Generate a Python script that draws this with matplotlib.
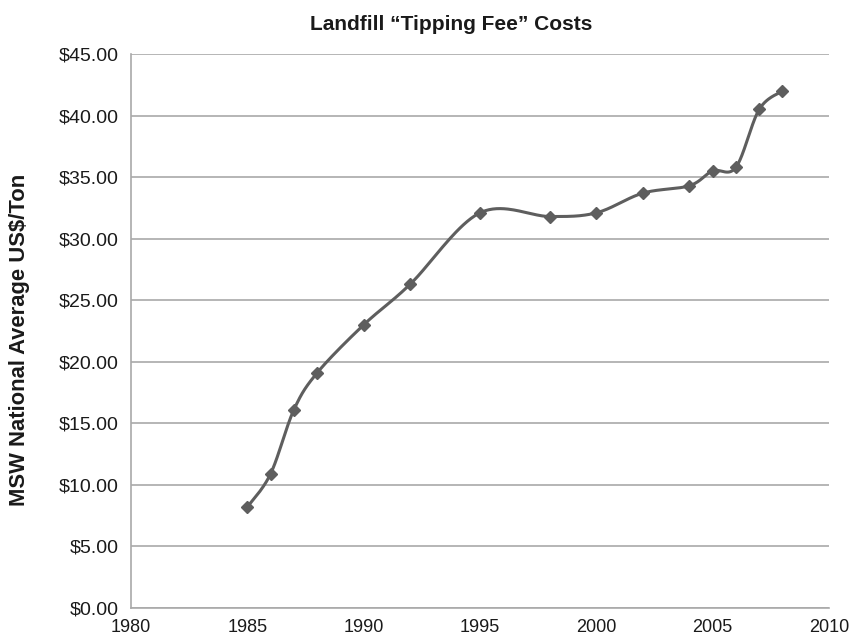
import numpy as np
import matplotlib
matplotlib.use("Agg")
import matplotlib.pyplot as plt

years = [1985, 1986, 1987, 1988, 1990, 1992, 1995, 1998, 2000, 2002, 2004, 2005, 2006, 2007, 2008]
fees = [8.2, 10.9, 16.1, 19.1, 23.0, 26.3, 32.1, 31.8, 32.1, 33.7, 34.3, 35.5, 35.8, 40.5, 42.0]

x_ticks = [1980, 1985, 1990, 1995, 2000, 2005, 2010]
y_ticks = [0, 5, 10, 15, 20, 25, 30, 35, 40, 45]

line_color = "#5e5e5e"
grid_color = "#a9a9a9"
text_color = "#1a1a1a"

plt.rcParams["font.family"] = ["Liberation Sans", "DejaVu Sans"]


def smooth_curve(xs, ys, n=40):
    """Cubic Bezier smoothing through every point (Catmull-Rom style)."""
    p = np.column_stack([xs, ys]).astype(float)
    ext = np.vstack([p[0], p, p[-1]])
    out = []
    t = np.linspace(0, 1, n)[:, None]
    for i in range(1, len(ext) - 2):
        p0, p1, p2, p3 = ext[i - 1], ext[i], ext[i + 1], ext[i + 2]
        c1 = p1 + (p2 - p0) / 6.0
        c2 = p2 - (p3 - p1) / 6.0
        seg = ((1 - t) ** 3) * p1 + 3 * ((1 - t) ** 2) * t * c1 + 3 * (1 - t) * t ** 2 * c2 + t ** 3 * p2
        out.append(seg if i == 1 else seg[1:])
    c = np.vstack(out)
    return c[:, 0], c[:, 1]


fig = plt.figure(figsize=(8.49, 6.35), dpi=100)
ax = fig.add_axes([131 / 849, 1 - 608 / 635, (829 - 131) / 849, (608 - 54) / 635])

sx, sy = smooth_curve(years, fees)
ax.plot(sx, sy, color=line_color, lw=2.2, solid_capstyle="round", zorder=3)
ax.plot(years, fees, linestyle="none", marker="D", markersize=6.2,
        color=line_color, zorder=4)

ax.set_xlim(x_ticks[0], x_ticks[-1])
ax.set_ylim(y_ticks[0], y_ticks[-1])
ax.set_xticks(x_ticks)
ax.set_yticks(y_ticks)
ax.set_yticklabels([f"${v:.2f}" for v in y_ticks])
ax.tick_params(axis="both", length=0, colors=text_color)
ax.tick_params(axis="y", pad=9, labelsize=14)
ax.tick_params(axis="x", pad=8, labelsize=13)

ax.grid(axis="y", color=grid_color, lw=1.2, zorder=1)
ax.set_axisbelow(True)
for side in ("top", "right"):
    ax.spines[side].set_visible(False)
for side in ("left", "bottom"):
    ax.spines[side].set_color(grid_color)
    ax.spines[side].set_linewidth(1.2)

fig.text(451 / 849, 1 - 25 / 635, "Landfill \u201cTipping Fee\u201d Costs",
         ha="center", va="center", fontsize=15, fontweight="bold", color=text_color)
fig.text(20 / 849, 1 - 340 / 635, "MSW National Average US$/Ton",
         ha="center", va="center", rotation=90, fontsize=15.8, fontweight="bold",
         color=text_color)

fig.savefig("out.png", dpi=100)
